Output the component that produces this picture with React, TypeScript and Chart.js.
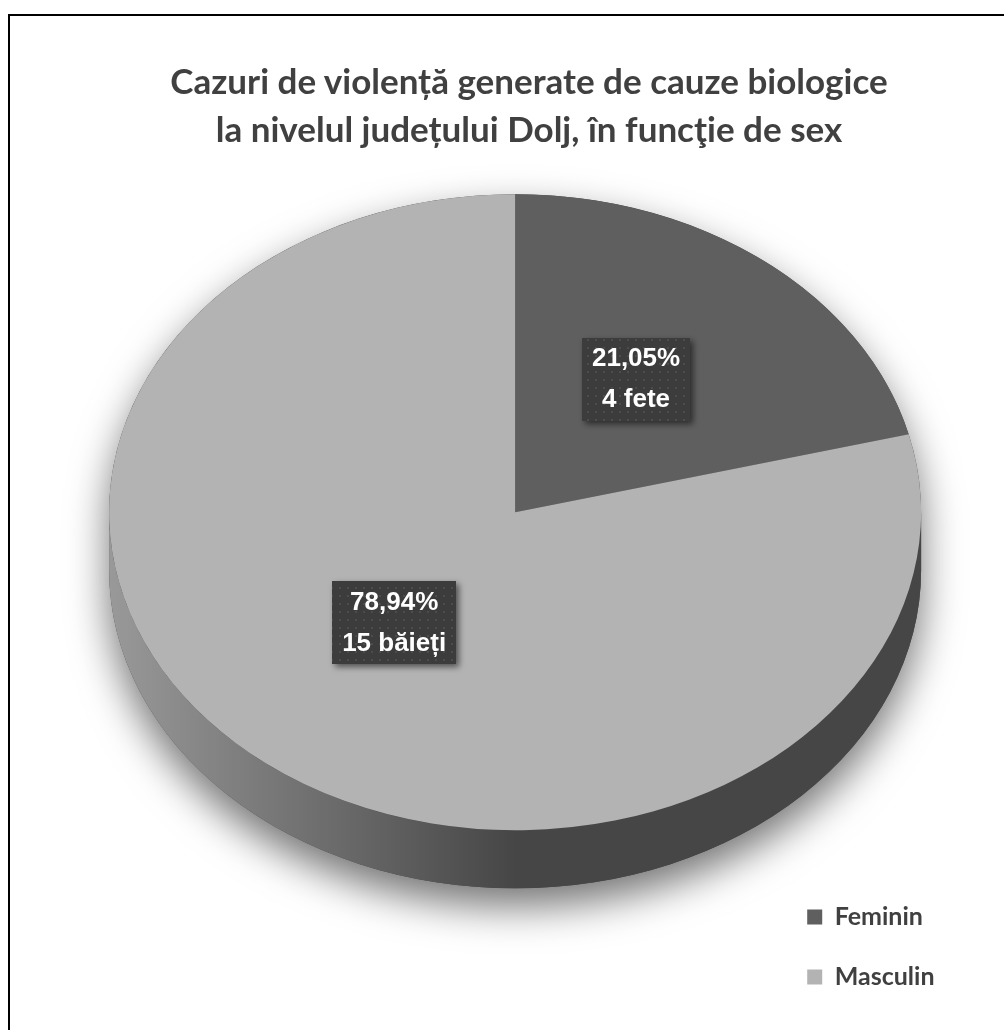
import React, { useEffect, useRef } from "react";
import { Chart, registerables } from "chart.js";

Chart.register(...registerables);

// ---- data ----
const categories = ["Feminin", "Masculin"];
const counts = [4, 15];
const percentLabels = ["21,05%", "78,94%"];
const countLabels = ["4 fete", "15 băieți"];
const titleLines = [
  "Cazuri de violență generate de cauze biologice",
  "la nivelul județului Dolj, în funcţie de sex",
];

// ---- styles ----
const topColors = ["#5f5f5f", "#b3b3b3"];
const sideLight = ["#4a4a4a", "#999999"];
const sideDark = ["#353535", "#464646"];
const TILT = 0.7835;
const DEPTH = 58;
const PIE_RADIUS = 406;

function makePattern(ctx: CanvasRenderingContext2D) {
  const c = document.createElement("canvas");
  c.width = 8;
  c.height = 8;
  const p = c.getContext("2d")!;
  p.fillStyle = "#3c3c3c";
  p.fillRect(0, 0, 8, 8);
  p.fillStyle = "#4c4c4c";
  p.fillRect(3, 3, 2, 2);
  return ctx.createPattern(c, "repeat")!;
}

const pie3d = {
  id: "pie3d",
  beforeDatasetsDraw(chart: any) {
    const meta = chart.getDatasetMeta(0);
    const arcs = meta.data;
    if (!arcs.length) return;
    const { x: cx, y: cy, outerRadius: R } = arcs[0].getProps(["x", "y", "outerRadius"], true);
    const ry = R * TILT;
    const ctx: CanvasRenderingContext2D = chart.ctx;

    // soft shadow of the whole body
    ctx.save();
    ctx.shadowColor = "rgba(0,0,0,0.55)";
    ctx.shadowBlur = 40;
    ctx.shadowOffsetY = 18;
    ctx.fillStyle = "#474747";
    ctx.beginPath();
    ctx.ellipse(cx, cy, R, ry, 0, Math.PI, 2 * Math.PI);
    ctx.lineTo(cx + R, cy + DEPTH);
    ctx.ellipse(cx, cy + DEPTH, R, ry, 0, 0, Math.PI);
    ctx.closePath();
    ctx.fill();
    ctx.restore();

    // visible side walls of each slice
    arcs.forEach((arc: any, i: number) => {
      const { startAngle: s, endAngle: e } = arc.getProps(["startAngle", "endAngle"], true);
      for (const k of [-2 * Math.PI, 0, 2 * Math.PI]) {
        const lo = Math.max(s, k);
        const hi = Math.min(e, Math.PI + k);
        if (lo >= hi) continue;
        const g = ctx.createLinearGradient(cx - R, 0, cx, 0);
        g.addColorStop(0, sideLight[i]);
        g.addColorStop(1, sideDark[i]);
        ctx.save();
        ctx.fillStyle = g;
        ctx.beginPath();
        ctx.ellipse(cx, cy, R, ry, 0, lo, hi);
        ctx.ellipse(cx, cy + DEPTH, R, ry, 0, hi, lo, true);
        ctx.closePath();
        ctx.fill();
        ctx.restore();
      }
    });

    // tilt the top face
    ctx.save();
    ctx.translate(cx, cy);
    ctx.scale(1, TILT);
    ctx.translate(-cx, -cy);
  },
  afterDatasetsDraw(chart: any) {
    const meta = chart.getDatasetMeta(0);
    const arcs = meta.data;
    if (!arcs.length) return;
    const ctx: CanvasRenderingContext2D = chart.ctx;
    ctx.restore();
    const { x: cx, y: cy, outerRadius: R } = arcs[0].getProps(["x", "y", "outerRadius"], true);
    const ry = R * TILT;
    const pattern = makePattern(ctx);
    arcs.forEach((arc: any, i: number) => {
      const { startAngle: s, endAngle: e } = arc.getProps(["startAngle", "endAngle"], true);
      const mid = (s + e) / 2;
      const f = 0.485;
      const x = cx + R * f * Math.cos(mid);
      const y = cy + ry * f * Math.sin(mid) - 11;
      ctx.save();
      ctx.font = "bold 26px 'Liberation Sans', Arial, sans-serif";
      const w = Math.max(ctx.measureText(percentLabels[i]).width, ctx.measureText(countLabels[i]).width) + 20;
      const h = 83;
      ctx.shadowColor = "rgba(0,0,0,0.55)";
      ctx.shadowBlur = 6;
      ctx.shadowOffsetX = 3;
      ctx.shadowOffsetY = 3;
      ctx.fillStyle = pattern;
      ctx.fillRect(Math.round(x - w / 2), Math.round(y - h / 2), Math.round(w), h);
      ctx.shadowColor = "transparent";
      ctx.fillStyle = "#ffffff";
      ctx.textAlign = "center";
      ctx.textBaseline = "middle";
      ctx.fillText(percentLabels[i], x, y - 20.5);
      ctx.fillText(countLabels[i], x, y + 20.5);
      ctx.restore();
    });
  },
};

export default function App() {
  const ref = useRef<HTMLCanvasElement>(null);
  useEffect(() => {
    const canvas = ref.current!;
    const chart = new Chart(canvas, {
      type: "pie",
      data: {
        labels: categories,
        datasets: [
          {
            data: counts,
            backgroundColor: topColors,
            borderWidth: 0,
            radius: PIE_RADIUS,
            clip: false,
            hoverOffset: 0,
          } as any,
        ],
      },
      options: {
        responsive: false,
        animation: false,
        events: [],
        layout: { padding: { left: 258, right: 59.5, top: -7, bottom: 5.5 } },
        plugins: {
          title: { display: false },
          tooltip: { enabled: false },
          legend: {
            position: "right",
            align: "end",
            labels: {
              boxWidth: 15,
              boxHeight: 15,
              padding: 35,
              color: "#404040",
              font: { family: "Lato", weight: "bold", size: 25 },
            },
          },
        },
      },
      plugins: [pie3d],
    });
    return () => chart.destroy();
  }, []);

  return (
    <div
      style={{
        position: "fixed",
        left: 0,
        top: 0,
        width: 1004,
        height: 1030,
        overflow: "hidden",
        background: "#ffffff",
      }}
    >
      <div
        style={{
          position: "absolute",
          left: 8,
          top: 14,
          width: 1100,
          height: 1100,
          borderTop: "2px solid #000",
          borderLeft: "2px solid #000",
        }}
      />
      <canvas ref={ref} width={1004} height={1030} style={{ position: "absolute", left: 0, top: 0 }} />
      <div
        style={{
          position: "absolute",
          left: 0,
          top: 56,
          width: 1058,
          textAlign: "center",
          fontFamily: "Lato, sans-serif",
          fontWeight: 700,
          fontSize: 35,
          lineHeight: "48px",
          color: "#404040",
        }}
      >
        {titleLines[0]}
        <br />
        {titleLines[1]}
      </div>
    </div>
  );
}
